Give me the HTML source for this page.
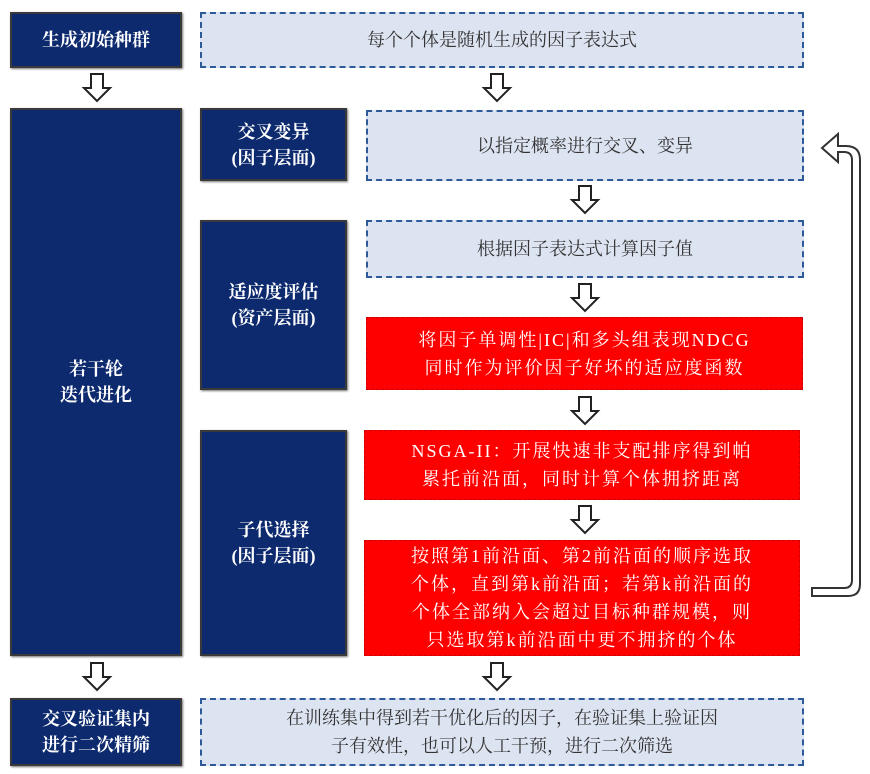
<!DOCTYPE html>
<html><head><meta charset="utf-8"><style>
body{margin:0;width:870px;height:774px;background:#fff;position:relative;overflow:hidden;font-family:"Liberation Serif","Noto Serif CJK SC","Noto Sans CJK SC",serif;}
.b{position:absolute;box-sizing:border-box;display:flex;align-items:center;justify-content:center;text-align:center;}
.n{background:#0d2a6e;color:#fff;border:2px solid #3a3a3a;font-size:18px;line-height:26px;font-weight:bold;box-shadow:1px 1px 2px #777;}
.d{background:#dde4f1;color:#333;border:2px dashed #2f5a9a;font-size:18px;line-height:28px;}
.r{background:#fe0000;color:#fff;border:1px dashed #c00;font-size:18px;line-height:28px;letter-spacing:2px;}
svg{position:absolute;left:0;top:0}
</style></head><body>
<div class="b n" style="left:10px;top:12px;width:172px;height:56px">生成初始种群</div>
<div class="b d" style="left:200px;top:12px;width:604px;height:56px">每个个体是随机生成的因子表达式</div>
<div class="b n" style="left:10px;top:108px;width:172px;height:548px">若干轮<br>迭代进化</div>
<div class="b n" style="left:200px;top:108px;width:147px;height:73px">交叉变异<br>(因子层面)</div>
<div class="b d" style="left:366px;top:110px;width:438px;height:71px">以指定概率进行交叉、变异</div>
<div class="b n" style="left:200px;top:220px;width:147px;height:170px">适应度评估<br>(资产层面)</div>
<div class="b d" style="left:366px;top:220px;width:438px;height:58px">根据因子表达式计算因子值</div>
<div class="b r" style="left:366px;top:317px;width:437px;height:73px">将因子单调性|IC|和多头组表现NDCG<br>同时作为评价因子好坏的适应度函数</div>
<div class="b n" style="left:200px;top:430px;width:147px;height:226px">子代选择<br>(因子层面)</div>
<div class="b r" style="left:364px;top:430px;width:436px;height:70px">NSGA-II：开展快速非支配排序得到帕<br>累托前沿面，同时计算个体拥挤距离</div>
<div class="b r" style="left:364px;top:540px;width:436px;height:116px">按照第1前沿面、第2前沿面的顺序选取<br>个体，直到第k前沿面；若第k前沿面的<br>个体全部纳入会超过目标种群规模，则<br>只选取第k前沿面中更不拥挤的个体</div>
<div class="b n" style="left:10px;top:698px;width:172px;height:68px">交叉验证集内<br>进行二次精筛</div>
<div class="b d" style="left:200px;top:698px;width:604px;height:68px">在训练集中得到若干优化后的因子，在验证集上验证因<br>子有效性，也可以人工干预，进行二次筛选</div>
<svg width="870" height="774">
<defs><path id="a" d="M-6,0 H6 V14 H13 L0,27 L-13,14 H-6 Z" fill="#fff" stroke="#222" stroke-width="2"/></defs>
<use href="#a" x="97" y="74"/><use href="#a" x="497" y="74"/>
<use href="#a" x="585" y="186"/><use href="#a" x="585" y="284"/>
<use href="#a" x="585" y="397"/><use href="#a" x="585" y="506"/>
<use href="#a" x="97" y="663"/><use href="#a" x="497" y="663"/>
<path d="M812,596 H848 Q860,596 860,584 V160 Q860,146 846,146 H838 V134 L822,148 L838,162 V152 H844 Q852,152 852,160 V580 Q852,588 844,588 H812 Z" fill="#fff" stroke="#333" stroke-width="2"/>
</svg>
</body></html>
